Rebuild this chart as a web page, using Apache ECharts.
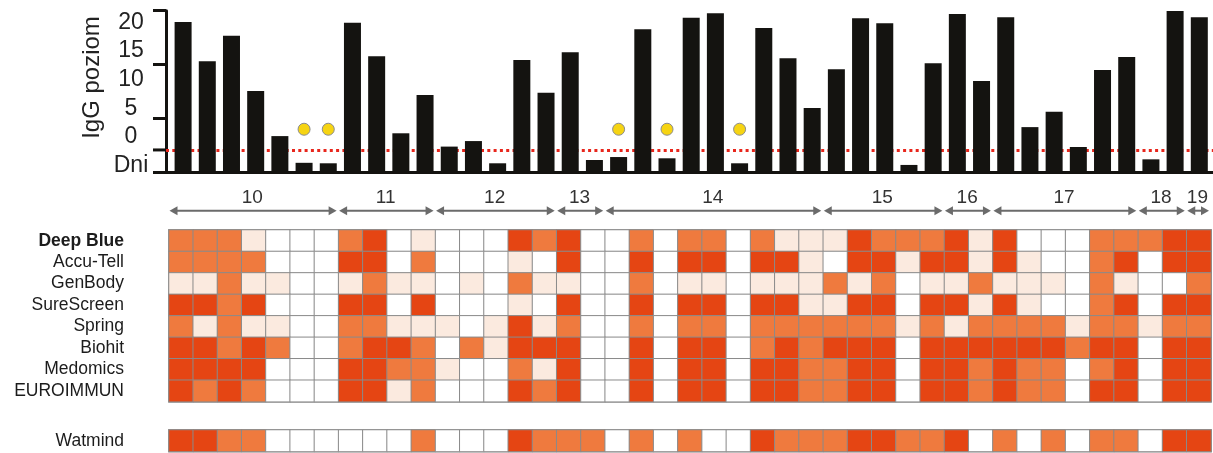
<!DOCTYPE html>
<html>
<head>
<meta charset="utf-8">
<script src="https://cdn.jsdelivr.net/npm/echarts@6/dist/echarts.min.js"></script>
<style>
  html, body { margin: 0; padding: 0; background: #fff; }
  #chart { width: 1213px; height: 453px; }
</style>
</head>
<body>
<div id="chart"></div>
<script>
const FONT = '"Liberation Sans", Arial, sans-serif';

// IgG level of each sample (plotted on a log axis)
const igg = [61.7, 11.5, 34.3, 3.23, 0.47, 0.15, 0.147, 59.8, 14.2, 0.53,
  2.72, 0.30, 0.38, 0.147, 12.2, 3.0, 16.9, 0.169, 0.192, 45.1,
  0.182, 74.1, 89.5, 0.147, 47.7, 13.1, 1.56, 8.17, 72.2, 58.3,
  0.137, 10.6, 86.8, 4.95, 75.4, 0.69, 1.33, 0.295, 7.93, 13.8,
  0.174, 98.7, 75.4];
const cutoff = 0.26;
const markedSamples = [5, 6, 18, 20, 23];
const markerLevel = 0.63;

// left-hand tick texts, bottom to top
const yTickLabels = ['Dni', '0', '5', '10', '15', '20'];
const yAxisTitle = 'IgG poziom';

// day groups: label and number of samples in each
const dayLabels = ['10', '11', '12', '13', '14', '15', '16', '17', '18', '19'];
const dayCounts = [7, 4, 5, 2, 9, 5, 2, 6, 2, 1];

// test results: 0 none, 1 faint, 2 positive, 3 strong
const testNames = ['Deep Blue', 'Accu-Tell', 'GenBody', 'SureScreen', 'Spring', 'Biohit', 'Medomics', 'EUROIMMUN'];
const deepBlue   = [2,2,2,1,0,0,0,2,3,0, 1,0,0,0,3,2,3,0,0,2,0,2,2,0,2,1,1, 1,3,2,2,2,3,1,3,0,0,0,2,2,2,3,3];
const accuTell   = [2,2,2,2,0,0,0,3,3,0, 2,0,0,0,1,0,3,0,0,3,0,3,3,0,3,3,1, 0,3,3,1,3,3,1,3,1,0,0,2,3,0,3,3];
const genBody    = [1,1,2,1,1,0,0,1,2,1, 1,0,1,0,2,1,1,0,0,2,0,1,1,0,1,1,1, 2,1,2,0,1,1,2,1,1,1,0,2,1,0,0,2];
const sureScreen = [3,3,2,3,0,0,0,3,3,0, 3,0,0,0,1,0,3,0,0,3,0,3,3,0,3,3,1, 1,3,3,0,3,3,1,3,1,0,0,2,3,0,3,3];
const spring     = [2,1,2,1,1,0,0,2,2,1, 1,1,0,1,3,1,2,0,0,2,0,2,2,0,2,2,2, 2,2,2,1,2,1,2,2,2,2,1,2,2,1,2,2];
const biohit     = [3,3,2,3,2,0,0,2,3,3, 2,0,2,1,3,3,3,0,0,3,0,3,3,0,2,3,2, 3,3,3,0,3,3,3,3,3,3,2,3,3,0,3,3];
const medomics   = [3,3,3,3,0,0,0,3,3,2, 2,1,0,0,2,1,3,0,0,3,0,3,3,0,3,3,2, 2,3,3,0,3,3,2,3,2,2,0,2,3,0,3,3];
const euroimmun  = [3,2,3,2,0,0,0,3,3,1, 2,0,0,0,3,2,3,0,0,3,0,3,3,0,3,3,2, 2,3,3,0,3,3,2,3,2,2,0,3,3,0,3,3];
const testResults = [deepBlue, accuTell, genBody, sureScreen, spring, biohit, medomics, euroimmun];

const watmindName = 'Watmind';
const watmind    = [3,3,2,2,0,0,0,0,0,0, 2,0,0,0,3,2,2,2,0,2,0,2,0,0,3,2,2, 2,3,3,2,2,3,0,2,0,2,0,2,2,0,3,3];

const levelColors = ['#ffffff', '#fbeadf', '#ef7a3e', '#e54513'];

const nSamples = igg.length;
const sampleCats = igg.map((_, i) => String(i + 1));

// day groups as [startIndex, endIndex]
const dayRanges = [];
let acc = 0;
dayCounts.forEach(n => { dayRanges.push([acc, acc + n]); acc += n; });

const heatData = [];
testResults.forEach((row, r) => row.forEach((v, c) => heatData.push([c, r, v])));
const watData = watmind.map((v, c) => [c, 0, v]);

const axisBlack = '#141310';
const hidden = { show: false };

const chart = echarts.init(document.getElementById('chart'), null, { renderer: 'canvas' });

const option = {
  animation: false,
  backgroundColor: '#ffffff',
  textStyle: { fontFamily: FONT },
  grid: [
    { left: 166, top: 10.7, width: 1047, height: 161.6 },   // bars
    { left: 166, top: 22.4, width: 100, height: 143.1 },    // tick texts
    { left: 169, top: 190, width: 1042, height: 20.7 },     // day arrows
    { left: 169, top: 230, width: 1042, height: 171.7, show: true, borderColor: '#a0a0a0', borderWidth: 2 },
    { left: 169, top: 430, width: 1042, height: 21.5, show: true, borderColor: '#a0a0a0', borderWidth: 2 }
  ],
  xAxis: [
    { gridIndex: 0, type: 'value', min: -0.2066, max: 43.066,
      axisLine: { onZero: false, lineStyle: { color: axisBlack, width: 3 } },
      axisTick: hidden, axisLabel: hidden, splitLine: hidden },
    { gridIndex: 1, type: 'value', show: false },
    { gridIndex: 2, type: 'value', min: 0, max: nSamples, show: false },
    { gridIndex: 3, type: 'category', data: sampleCats, show: false },
    { gridIndex: 4, type: 'category', data: sampleCats, show: false }
  ],
  yAxis: [
    { gridIndex: 0, type: 'log', logBase: 10, min: 0.1, max: 100, startValue: 0.1,
      axisLine: { show: true, onZero: false, lineStyle: { color: axisBlack, width: 3 } },
      axisTick: { show: true, length: 13, lineStyle: { color: axisBlack, width: 3 } },
      axisLabel: hidden, splitLine: hidden },
    { gridIndex: 1, type: 'value', min: -5, max: 20, interval: 5,
      axisLine: hidden, axisTick: hidden, splitLine: hidden,
      axisLabel: { show: true, align: 'center', margin: 35, fontSize: 23, color: '#222',
        fontFamily: FONT,
        formatter: v => yTickLabels[Math.round((v + 5) / 5)] } },
    { gridIndex: 2, type: 'value', min: 0, max: 1, show: false },
    { gridIndex: 3, type: 'category', data: testNames, inverse: true,
      axisLine: hidden, axisTick: hidden, splitLine: hidden,
      axisLabel: { show: true, interval: 0, margin: 45, fontSize: 17.5, color: '#1c1c1c', fontFamily: FONT,
        formatter: v => v === 'Deep Blue' ? '{b|' + v + '}' : v,
        rich: { b: { fontWeight: 'bold', fontSize: 17.5, color: '#1c1c1c', fontFamily: FONT } } } },
    { gridIndex: 4, type: 'category', data: [watmindName],
      axisLine: hidden, axisTick: hidden, splitLine: hidden,
      axisLabel: { show: true, interval: 0, margin: 45, fontSize: 17.5, color: '#1c1c1c', fontFamily: FONT } }
  ],
  visualMap: {
    type: 'piecewise', show: false, dimension: 2, seriesIndex: [3, 4],
    pieces: levelColors.map((c, i) => ({ value: i, color: c }))
  },
  series: [
    {
      type: 'bar', xAxisIndex: 0, yAxisIndex: 0, z: 2,
      data: igg.map((v, i) => [i + 0.5, v]),
      barWidth: 17,
      itemStyle: { color: axisBlack },
      markLine: {
        silent: true, symbol: 'none', z: 1,
        label: { show: false },
        lineStyle: { color: '#e8261c', width: 3, type: [3, 3.3] },
        data: [{ yAxis: cutoff }]
      }
    },
    {
      type: 'scatter', xAxisIndex: 0, yAxisIndex: 0, z: 3,
      data: markedSamples.map(i => [i + 0.5, markerLevel]),
      symbolSize: 12,
      itemStyle: { color: '#f6d412', borderColor: '#8c8c8c', borderWidth: 1, opacity: 1 }
    },
    {
      type: 'custom', xAxisIndex: 2, yAxisIndex: 2, clip: false,
      data: dayRanges,
      renderItem: (params, api) => {
        const p0 = api.coord([api.value(0), 0]);
        const p1 = api.coord([api.value(1), 0]);
        const x0 = p0[0] + 0.5, x1 = p1[0] - 2, y = p0[1];
        const col = '#6b6b6b', hl = 8, hh = 4.5;
        return {
          type: 'group',
          children: [
            { type: 'line', shape: { x1: x0 + 4, y1: y, x2: x1 - 4, y2: y },
              style: { stroke: col, lineWidth: 2 } },
            { type: 'polygon', shape: { points: [[x0, y], [x0 + hl, y - hh], [x0 + hl, y + hh]] },
              style: { fill: col } },
            { type: 'polygon', shape: { points: [[x1, y], [x1 - hl, y - hh], [x1 - hl, y + hh]] },
              style: { fill: col } },
            { type: 'text', style: { text: dayLabels[params.dataIndex], x: (p0[0] + p1[0]) / 2 - 1.5, y: y - 13,
              align: 'center', verticalAlign: 'middle', fontSize: 19, fontFamily: FONT, fill: '#333' } }
          ]
        };
      }
    },
    {
      type: 'heatmap', xAxisIndex: 3, yAxisIndex: 3,
      data: heatData,
      itemStyle: { borderColor: '#8a8a8a', borderWidth: 1 },
      emphasis: { disabled: true }
    },
    {
      type: 'heatmap', xAxisIndex: 4, yAxisIndex: 4,
      data: watData,
      itemStyle: { borderColor: '#8a8a8a', borderWidth: 1 },
      emphasis: { disabled: true }
    }
  ]
};

chart.setOption(option);

// axis title and the tick marking the cutoff level
const cutPt = chart.convertToPixel({ gridIndex: 0 }, [-0.2066, cutoff]);
chart.setOption({
  graphic: [
    { type: 'text', x: 92, y: 77.5, rotation: Math.PI / 2,
      style: { text: yAxisTitle, align: 'center', verticalAlign: 'middle', fontSize: 24, fontFamily: FONT, fill: '#222' } },
    { type: 'line', shape: { x1: cutPt[0] - 13, y1: cutPt[1], x2: cutPt[0], y2: cutPt[1] },
      style: { stroke: axisBlack, lineWidth: 3 } }
  ]
});
</script>
</body>
</html>
